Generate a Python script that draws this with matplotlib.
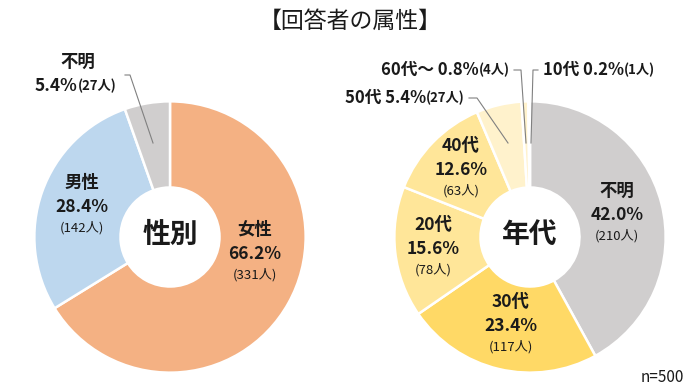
import matplotlib
matplotlib.use("Agg")
import matplotlib.pyplot as plt

plt.rcParams['font.family'] = ['Noto Sans CJK JP', 'DejaVu Sans']

# data
gender_labels = ["女性", "男性", "不明"]
gender_pct = [66.2, 28.4, 5.4]
gender_n = [331, 142, 27]
gender_colors = ["#F4B183", "#BDD7EE", "#D0CECE"]

age_labels = ["不明", "30代", "20代", "40代", "50代", "60代～", "10代"]
age_pct = [42.0, 23.4, 15.6, 12.6, 5.4, 0.8, 0.2]
age_n = [210, 117, 78, 63, 27, 4, 1]
age_colors = ["#D0CECE", "#FFD966", "#FFE699", "#FFE699", "#FFF2CC", "#FFF2CC", "#FFF7DD"]

W, H = 700, 392
fig = plt.figure(figsize=(7, 3.92), dpi=100)
renderer = fig.canvas.get_renderer()
INK = "#1a1a1a"


def px(x, y):
    return x / W, 1 - y / H


def donut(cx, cy, r, values, colors, center_text):
    ax = fig.add_axes([(cx - r) / W, (H - cy - r) / H, 2 * r / W, 2 * r / H])
    ax.pie(values, colors=colors, startangle=90, counterclock=False, radius=1,
           wedgeprops=dict(width=1 - 50 / r, edgecolor="white", linewidth=1.8))
    ax.set_xlim(-1.01, 1.01)
    ax.set_ylim(-1.01, 1.01)
    ax.axis("off")
    fig.text(*px(cx, cy - 2), center_text, ha="center", va="center",
             fontsize=20, fontweight="bold", color=INK)
    return ax


donut(170, 237, 137, gender_pct, gender_colors, "性別")
donut(530, 237, 137, age_pct, age_colors, "年代")

fig.text(*px(350, 21), "【回答者の属性】", ha="center", va="center",
         fontsize=16.5, color=INK)


def inner_label(x, y, name, pct, n):
    fig.text(*px(x, y), name, ha="center", va="center", fontsize=12.5,
             fontweight="bold", color=INK)
    fig.text(*px(x, y + 24), f"{pct:.1f}%", ha="center", va="center",
             fontsize=12.5, fontweight="bold", color=INK)
    fig.text(*px(x, y + 45), f"({n}人)", ha="center", va="center",
             fontsize=9.5, color=INK)


def run_text(x, y, pieces, ha="left"):
    # pieces: list of (text, fontsize); laid out side by side
    arts = [fig.text(0, 0, s, fontsize=fs, fontweight="bold", color=INK,
                     ha="left", va="center") for s, fs in pieces]
    widths = [a.get_window_extent(renderer).width for a in arts]
    total = sum(widths)
    x0 = x - total if ha == "right" else x
    for a, w in zip(arts, widths):
        a.set_position(px(x0, y))
        x0 += w


# gender inner labels
inner_label(255, 230, gender_labels[0], gender_pct[0], gender_n[0])
inner_label(82, 183, gender_labels[1], gender_pct[1], gender_n[1])

# gender outer label (不明)
fig.text(*px(78, 62), gender_labels[2], ha="center", va="center",
         fontsize=12.5, fontweight="bold", color=INK)
run_text(35, 86, [(f"{gender_pct[2]:.1f}%", 12.5), (f"({gender_n[2]}人)", 9.5)])
fig.add_artist(plt.Line2D([125 / W, 130 / W, 153 / W],
                          [1 - 75 / H, 1 - 75 / H, 1 - 143 / H],
                          color="#808080", lw=0.8))

# age inner labels
inner_label(617, 191, age_labels[0], age_pct[0], age_n[0])
inner_label(511, 302, age_labels[1], age_pct[1], age_n[1])
inner_label(433, 225, age_labels[2], age_pct[2], age_n[2])
inner_label(461, 146, age_labels[3], age_pct[3], age_n[3])

# age outer labels
run_text(510, 70, [(f"{age_labels[5]} {age_pct[5]:.1f}%", 12), (f"({age_n[5]}人)", 9.5)], "right")
run_text(543, 70, [(f"{age_labels[6]} {age_pct[6]:.1f}%", 12), (f"({age_n[6]}人)", 9.5)])
run_text(465, 98, [(f"{age_labels[4]} {age_pct[4]:.1f}%", 12), (f"({age_n[4]}人)", 9.5)], "right")

for xs, ys in [([514, 521, 526], [70, 70, 143]),
               ([538, 533, 531], [70, 70, 143]),
               ([469, 477, 508], [98, 98, 143])]:
    fig.add_artist(plt.Line2D([x / W for x in xs], [1 - y / H for y in ys],
                              color="#808080", lw=0.8))

fig.text(*px(684, 377), "n=500", ha="right", va="center", fontsize=11,
         color=INK)

fig.savefig("out.png", dpi=100, facecolor="white")
